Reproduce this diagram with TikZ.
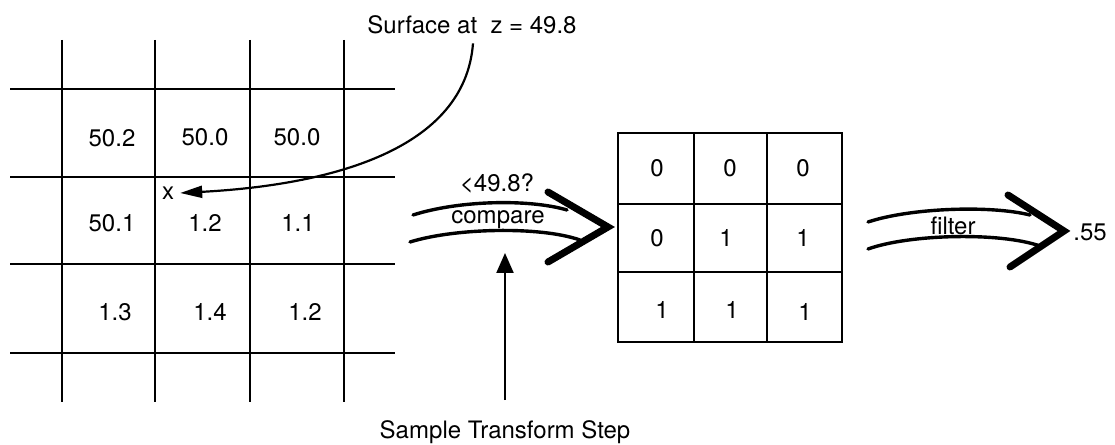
\documentclass[tikz,border=0pt]{standalone}
\usepackage{fontspec}
\setmainfont{TeX Gyre Heros}
\usetikzlibrary{arrows.meta}
\begin{document}
\begin{tikzpicture}[x=1bp,y=-1bp,
  lbl/.style={font=\fontsize{24bp}{28bp}\selectfont, inner sep=0pt},
  gridline/.style={line width=2.4bp},
  ribbon/.style={line width=3.4bp, line cap=round},
  chevron/.style={line width=7bp, line cap=round, line join=miter},
  pointer/.style={line width=2.2bp, -{Triangle[length=22bp,width=12bp]}},
  uppointer/.style={line width=2.2bp, -{Triangle[length=20bp,width=17bp]}}]
\useasboundingbox (0,0) rectangle (1115,445);
% left grid
\foreach \x in {62,155,250,344} \draw[gridline] (\x,40) -- (\x,402);
\foreach \y in {89,177,264,353} \draw[gridline] (10,\y) -- (395,\y);
\node[lbl] (a11) at (112,138) {50.2};
\node[lbl] (a12) at (205,137) {50.0};
\node[lbl] (a13) at (297,137) {50.0};
\node[lbl] (a21) at (112,223) {50.1};
\node[lbl] (a22) at (205,223) {1.2};
\node[lbl] (a23) at (298,223) {1.1};
\node[lbl] (a31) at (115,312) {1.3};
\node[lbl] (a32) at (210,312) {1.4};
\node[lbl] (a33) at (305,312) {1.2};
\node[lbl] (xm) at (168,193) {x};
% surface label and curved pointer
\node[lbl] (surf) at (472,25) {Surface at\ \ z = 49.8};
\draw[pointer] ([xshift=1bp,yshift=-9bp]surf.south) .. controls (465,150) and (330,185) .. ([xshift=6bp]xm.east);
% middle grid
\draw[gridline] (618,133) rectangle (842,342);
\draw[gridline] (694,133) -- (694,342);
\draw[gridline] (767,133) -- (767,342);
\draw[gridline] (618,204) -- (842,204);
\draw[gridline] (618,272) -- (842,272);
\node[lbl] (b11) at (657,168) {0};
\node[lbl] (b12) at (730,168) {0};
\node[lbl] (b13) at (803,168) {0};
\node[lbl] (b21) at (657,238) {0};
\node[lbl] (b22) at (726,238) {1};
\node[lbl] (b23) at (803,238) {1};
\node[lbl] (b31) at (662,310) {1};
\node[lbl] (b32) at (732,310) {1};
\node[lbl] (b33) at (805,312) {1};
% compare arrow
\draw[ribbon] (413,215) .. controls (460,200) and (530,199) .. (567,210);
\draw[ribbon] (410,242) .. controls (455,228) and (540,226) .. (580,240);
\draw[chevron] (548,192) -- (608,227) -- (548,262);
\node[lbl] (lt) at (497,183) {<49.8?};
\node[lbl] (cmp) at (498,220) {compare};
% sample transform step
\node[lbl] (step) at (505,432) {Sample Transform Step};
\coordinate (uptip) at (505,253);
\draw[uppointer] ([yshift=20bp]step.north) -- (uptip);
% filter arrow
\draw[ribbon] (868,222) .. controls (910,208) and (990,205) .. (1030,215);
\draw[ribbon] (868,249) .. controls (910,234) and (1000,232) .. (1040,246);
\draw[chevron] (1008,195) -- (1064,231) -- (1010,267);
\node[lbl] (flt) at (953,226) {filter};
\node[lbl] (res) at (1090,232) {.55};
\end{tikzpicture}
\end{document}
